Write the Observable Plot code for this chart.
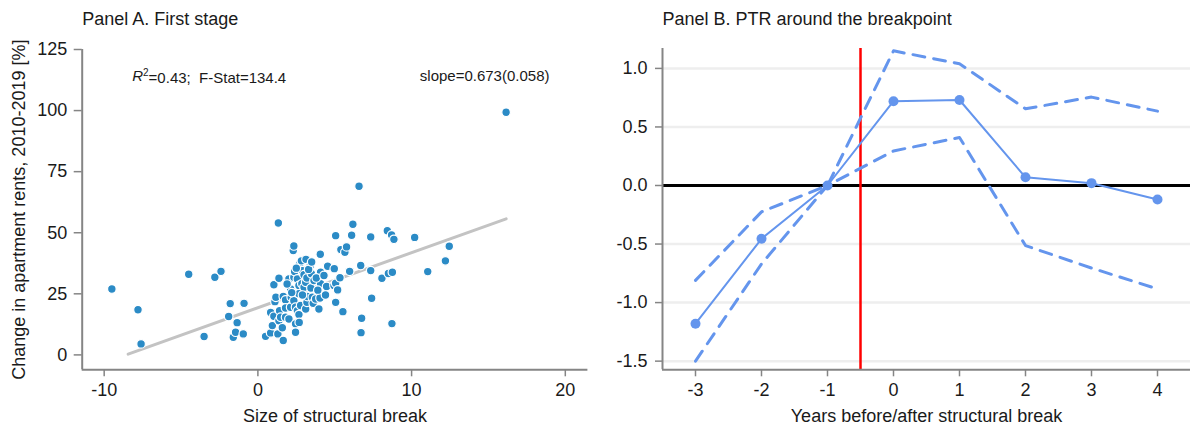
<!DOCTYPE html>
<html>
<head>
<meta charset="utf-8">
<script src="https://cdn.jsdelivr.net/npm/d3@7"></script>
<script src="https://cdn.jsdelivr.net/npm/@observablehq/plot@0.6"></script>
<style>
html, body { margin: 0; padding: 0; background: #fff; }
#wrap { display: flex; width: 1190px; height: 428px; overflow: hidden; }
#wrap svg { display: block; flex: none; }
</style>
</head>
<body>
<div id="wrap"></div>
<script>
// ---------- Panel A data ----------
const breakSize = [
  -9.5, -7.8, -7.6, -4.5, -3.5, -2.8, -2.4, -1.9, -1.8, -1.6, -1.45, -1.35, -0.95, -0.9,
  0.5, 0.83, 0.83, 0.94, 1.04, 1.04, 1.11, 1.17, 1.3, 1.33, 1.37, 1.37, 1.41, 1.48, 1.59, 1.65,
  1.65, 1.8, 1.8, 1.8, 2.02, 2.02, 2.13, 2.13, 2.17, 2.3, 2.34, 2.34, 2.34, 2.39, 2.45, 2.45,
  2.45, 2.57, 2.57, 2.67, 2.67, 2.67, 2.69, 2.73, 2.78, 2.83, 2.86, 2.89, 3.0, 3.0, 3.11, 3.11,
  3.13, 3.19, 3.19, 3.22, 3.4, 3.45, 3.48, 3.54, 3.6, 3.65, 3.76, 3.97, 4.04, 4.06, 4.08, 4.08,
  4.47, 4.54, 4.95, 4.97, 5.06, 5.06, 5.06, 5.19, 5.34, 5.4, 5.53, 5.66, 5.77, 5.97, 6.1, 6.18,
  6.58, 6.69, 6.75, 6.71, 7.34, 7.34, 7.4, 8.07, 8.42, 8.49, 8.7, 8.72, 8.75, 8.85, 10.2, 11.05,
  12.2, 12.45, 16.15,
  2.5, 3.3, 3.8, 4.3, 2.9, 2.2, 3.9, 4.4, 1.9, 3.5
];
const rentChange = [
  27, 18.5, 4.5, 33, 7.5, 31.8, 34.2, 15.7, 21, 7.2, 9.3, 13.2, 8.6, 21.1,
  7.6, 9.0, 17.4, 12.0, 15.8, 28.7, 21.8, 23.6, 8.6, 54, 31.4, 14.0, 18.1, 15.4, 11.1, 5.9,
  23.9, 22.5, 19.2, 15.4, 31.1, 14.7, 27.0, 19.5, 23.6, 42.7, 44.6, 31.8, 22.2, 34.1, 19.5, 12.7,
  9.3, 31.1, 18.1, 28.4, 25.0, 16.5, 13.3, 37.3, 20.2, 38.5, 29.1, 34.5, 32.8, 27.7, 29.7, 18.8,
  39.1, 31.5, 21.5, 23.9, 36.4, 27.4, 33.2, 23.6, 21.1, 30.4, 22.9, 18.8, 23.3, 41.2, 33.8, 29.1,
  28.0, 36.3, 28.4, 35.3, 48.8, 29.3, 21.5, 26.6, 31.6, 43.1, 17.7, 42.0, 44.2, 34.2, 49.0, 53.5,
  69.0, 36.6, 15.0, 9.1, 48.3, 34.5, 23.2, 31.4, 50.8, 33.3, 49.1, 12.8, 33.8, 47.3, 48.1, 34.1,
  38.5, 44.5, 99.3,
  35.5, 35.0, 31.5, 32.5, 24.5, 25.5, 26.5, 24.5, 29.0, 38.0
];
const fitX = [-8.44, 16.15];
const fitY = [0.3, 55.7];
const xDomainA = [-11.43, 21.47];
const yDomainA = [-6.1, 125];
const xTicksA = [-10, 0, 10, 20];
const yTicksA = [0, 25, 50, 75, 100, 125];
const titleA = "Panel A. First stage";
const xLabelA = "Size of structural break";
const yLabelA = "Change in apartment rents, 2010-2019 [%]";
const statsParts = ["R", "2", "=0.43;  F-Stat=134.4"];
const slopeLabel = "slope=0.673(0.058)";

// ---------- Panel B data ----------
const years = [-3, -2, -1, 0, 1, 2, 3, 4];
const ptr = [-1.18, -0.455, 0, 0.72, 0.73, 0.07, 0.02, -0.12];
const ptrUpper = [-0.81, -0.225, 0, 1.15, 1.04, 0.655, 0.755, 0.635];
const ptrLower = [-1.5, -0.67, 0, 0.295, 0.41, -0.513, -0.705, -0.883];
const xDomainB = [-3.5, 4.5];
const yDomainB = [-1.574, 1.17];
const yTicksB = [-1.5, -1, -0.5, 0, 0.5, 1];
const breakpoint = [-0.5];
const titleB = "Panel B. PTR around the breakpoint";
const xLabelB = "Years before/after structural break";

// ---------- styling ----------
const font = "'Liberation Sans', Arial, Helvetica, sans-serif";
const axisGray = "#858585";
const textCol = "#1a1a1a";
const dotBlue = "#2b8bc6";
const lineBlue = "#6495ed";

const scatter = breakSize.map((x, i) => ({x, y: rentChange[i]}));
const fit = fitX.map((x, i) => ({x, y: fitY[i]}));

const plotA = Plot.plot({
  width: 595, height: 428,
  marginLeft: 81.7, marginRight: 7.6, marginTop: 49, marginBottom: 58.7,
  style: {fontFamily: font, background: "white", color: textCol, overflow: "visible"},
  x: {domain: xDomainA},
  y: {domain: yDomainA},
  marks: [
    Plot.line(fit, {x: "x", y: "y", stroke: "#c3c3c3", strokeWidth: 3}),
    Plot.dot(scatter, {x: "x", y: "y", r: 4.3, fill: dotBlue, stroke: "white", strokeWidth: 1.2}),
    Plot.ruleX([xDomainA[0]], {stroke: axisGray, strokeWidth: 2}),
    Plot.ruleY([yDomainA[0]], {stroke: axisGray, strokeWidth: 2}),
    Plot.axisX(xTicksA, {tickSize: 7, tickPadding: 6, fontSize: 18, stroke: axisGray, strokeWidth: 1.5, fill: textCol, tickFormat: d => String(d), label: null}),
    Plot.axisY(yTicksA, {tickSize: 8, tickPadding: 7, fontSize: 18, stroke: axisGray, strokeWidth: 1.5, fill: textCol, tickFormat: d => String(d), label: null}),
    Plot.text([titleA], {frameAnchor: "top-left", dy: -25, lineAnchor: "bottom", textAnchor: "start", fontSize: 18, fill: textCol}),
    Plot.text([xLabelA], {frameAnchor: "bottom", dy: 51.7, lineAnchor: "bottom", fontSize: 18, fill: textCol}),
    Plot.text([yLabelA], {frameAnchor: "left", rotate: -90, dx: -56.7, lineAnchor: "bottom", textAnchor: "middle", fontSize: 18, fill: textCol}),
    Plot.text([statsParts.join("")], {frameAnchor: "top-left", dx: 50, dy: 31, lineAnchor: "bottom", textAnchor: "start", fontSize: 15, fill: textCol, className: "stats"}),
    Plot.text([slopeLabel], {frameAnchor: "top-left", dx: 337.6, dy: 31, lineAnchor: "bottom", textAnchor: "start", fontSize: 15, fill: textCol})
  ]
});

// rich text for R² annotation
{
  const t = d3.select(plotA).select("g.stats text");
  t.text(null).style("white-space", "pre");
  t.append("tspan").attr("font-style", "italic").text(statsParts[0]);
  t.append("tspan").attr("font-size", 10).attr("dy", "-0.5em").text(statsParts[1]);
  t.append("tspan").attr("dy", "0.5em").text(statsParts[2]);
}

const est = years.map((x, i) => ({x, y: ptr[i]}));
const up = years.map((x, i) => ({x, y: ptrUpper[i]}));
const lo = years.map((x, i) => ({x, y: ptrLower[i]}));

const plotB = Plot.plot({
  width: 595, height: 428,
  marginLeft: 67, marginRight: 0, marginTop: 48, marginBottom: 58.7,
  style: {fontFamily: font, background: "white", color: textCol, overflow: "visible"},
  x: {domain: xDomainB},
  y: {domain: yDomainB},
  marks: [
    Plot.gridY(yTicksB, {stroke: "#eeeeee", strokeOpacity: 1, strokeWidth: 2.5}),
    Plot.ruleY([0], {stroke: "black", strokeWidth: 3}),
    Plot.ruleX(breakpoint, {stroke: "#ff0000", strokeWidth: 2.5}),
    Plot.line(up, {x: "x", y: "y", stroke: lineBlue, strokeWidth: 3, strokeDasharray: "12,9"}),
    Plot.line(lo, {x: "x", y: "y", stroke: lineBlue, strokeWidth: 3, strokeDasharray: "12,9"}),
    Plot.line(est, {x: "x", y: "y", stroke: lineBlue, strokeWidth: 2}),
    Plot.dot(est, {x: "x", y: "y", r: 5, fill: lineBlue}),
    Plot.ruleX([xDomainB[0]], {stroke: axisGray, strokeWidth: 2}),
    Plot.ruleY([yDomainB[0]], {stroke: axisGray, strokeWidth: 2}),
    Plot.axisX(years, {tickSize: 7, tickPadding: 6, fontSize: 18, stroke: axisGray, strokeWidth: 1.5, fill: textCol, tickFormat: d => String(d), label: null}),
    Plot.axisY(yTicksB, {tickSize: 7, tickPadding: 8, fontSize: 18, stroke: axisGray, strokeWidth: 1.5, fill: textCol, tickFormat: d => d.toFixed(1), label: null}),
    Plot.text([titleB], {frameAnchor: "top-left", dy: -24, lineAnchor: "bottom", textAnchor: "start", fontSize: 18, fill: textCol}),
    Plot.text([xLabelB], {frameAnchor: "bottom", dy: 51.7, lineAnchor: "bottom", fontSize: 18, fill: textCol})
  ]
});

document.getElementById("wrap").append(plotA, plotB);
</script>
</body>
</html>
